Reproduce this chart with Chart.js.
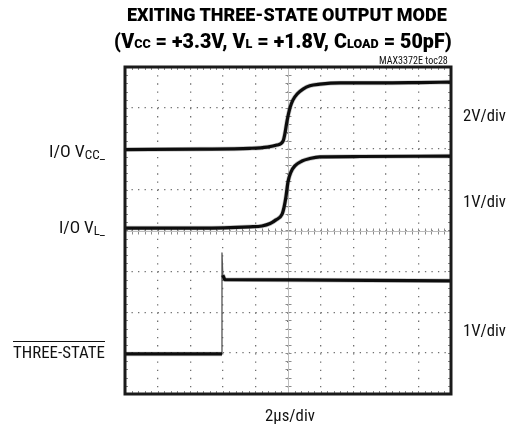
<!DOCTYPE html>
<html>
<head>
<meta charset="utf-8">
<script src="https://cdn.jsdelivr.net/npm/chart.js@4/dist/chart.umd.min.js"></script>
<style>
  html, body { margin: 0; padding: 0; background: #fff; }
  #wrap { position: relative; width: 508px; height: 428px; }
  #c { position: absolute; left: 0; top: 0; }
  #txt { position: absolute; left: 0; top: 0; pointer-events: none; }
  .b { font-family: Roboto, "Liberation Sans Narrow", "DejaVu Sans Condensed", "Liberation Sans", Arial, sans-serif; font-weight: 900; fill: #000; }
  .r { font-family: "Liberation Sans Narrow", "Roboto Condensed", "DejaVu Sans Condensed", "Liberation Sans", Arial, sans-serif; font-weight: normal; fill: #111; }
</style>
</head>
<body>
<div id="wrap">
<canvas id="c" width="508" height="428"></canvas>
<svg id="txt" width="508" height="428" xmlns="http://www.w3.org/2000/svg">
  <text class="b" x="127" y="21" font-size="17.5" data-w="320">EXITING THREE-STATE OUTPUT MODE</text>
  <text class="b" x="114" y="48" font-size="19.5" data-w="338">(V<tspan font-size="12.5">CC</tspan> = +3.3V, V<tspan font-size="12.5">L</tspan> = +1.8V, C<tspan font-size="12.5">LOAD</tspan> = 50pF)</text>
  <text class="r" x="379" y="64.5" font-size="10" data-w="69">MAX3372E toc28</text>
  <text class="r" x="49" y="157" font-size="17" data-w="56">I/O V<tspan font-size="12.5" dy="2.5">CC_</tspan></text>
  <text class="r" x="59" y="233" font-size="17" data-w="46">I/O V<tspan font-size="12.5" dy="2.5">L_</tspan></text>
  <text class="r" x="13" y="358" font-size="17" data-w="92">THREE-STATE</text>
  <line x1="13" y1="341.5" x2="105" y2="341.5" stroke="#111" stroke-width="1"/>
  <text class="r" x="463" y="121" font-size="17" data-w="43">2V/div</text>
  <text class="r" x="463" y="207" font-size="17" data-w="43">1V/div</text>
  <text class="r" x="463" y="336.5" font-size="17" data-w="43">1V/div</text>
  <text class="r" x="265" y="421" font-size="17" data-w="50">2µs/div</text>
</svg>
</div>
<script>
// Time axis in divisions (2 µs/div), 10 divisions; vertical axis in divisions, 8 divisions.
const xDivisions = [0, 10];
const yDivisions = [0, 8];

// I/O VCC_ trace (x in divisions, y in divisions)
const vccX = [0, 2.30, 3.83, 4.36, 4.66, 4.85, 4.91, 4.97, 5.06, 5.15, 5.28, 5.46, 5.67, 5.98, 6.60, 7.82, 9.05, 10];
const vccY = [5.98, 5.99, 6.01, 6.04, 6.09, 6.19, 6.39, 6.68, 7.00, 7.19, 7.34, 7.46, 7.54, 7.58, 7.61, 7.61, 7.62, 7.63];

// I/O VL_ trace
const vlX = [0, 2.30, 3.83, 4.20, 4.45, 4.63, 4.82, 4.88, 4.94, 5.00, 5.09, 5.21, 5.43, 5.67, 5.98, 7.21, 10];
const vlY = [4.06, 4.06, 4.09, 4.11, 4.17, 4.26, 4.40, 4.57, 4.84, 5.19, 5.43, 5.58, 5.70, 5.76, 5.80, 5.81, 5.82];

// THREE-STATE trace: low level, fast edge, high level
const tsLowX = [0, 2.975];
const tsLowY = [0.98, 0.98];
const tsEdgeX = [2.975, 2.975, 3.0];
const tsEdgeY = [0.98, 3.45, 2.91];
const tsHighX = [3.0, 3.06, 5.0, 7.5, 10];
const tsHighY = [2.91, 2.80, 2.79, 2.78, 2.77];

const pts = (xs, ys) => xs.map((x, i) => ({ x, y: ys[i] }));

const fuzz = 'rgba(0,0,0,0.22)';
const ink = '#111';
function trace(xs, ys, width, color, smooth) {
  return {
    data: pts(xs, ys), showLine: true, pointRadius: 0, borderColor: color,
    borderWidth: width, fill: false,
    cubicInterpolationMode: smooth ? 'monotone' : 'default', tension: 0,
    borderCapStyle: 'butt', borderJoinStyle: 'round'
  };
}

const datasets = [
  trace(vccX, vccY, 4.6, fuzz, true),
  trace(vlX, vlY, 4.6, fuzz, true),
  trace(tsLowX, tsLowY, 4.6, fuzz, false),
  trace(tsHighX, tsHighY, 4.6, fuzz, false),
  trace(vccX, vccY, 3.2, ink, true),
  trace(vlX, vlY, 3.2, ink, true),
  trace(tsLowX, tsLowY, 3.2, ink, false),
  trace(tsHighX, tsHighY, 3.2, ink, false),
  trace(tsEdgeX, tsEdgeY, 1.3, '#555', false)
];

const scopePlugin = {
  id: 'scope',
  beforeDatasetsDraw(chart) {
    const { ctx, chartArea: a, scales: { x, y } } = chart;
    ctx.save();
    ctx.strokeStyle = '#8a8a8a';
    ctx.lineWidth = 1;
    const cx = Math.round(x.getPixelForValue(5)) + 0.5;
    const cy = Math.round(y.getPixelForValue(4)) + 0.5;
    ctx.beginPath();
    for (let v = 0; v <= 10.001; v += 0.2) {
      const px = Math.round(x.getPixelForValue(v)) + 0.5;
      ctx.moveTo(px, cy - 3); ctx.lineTo(px, cy + 3);
      ctx.moveTo(px, a.top); ctx.lineTo(px, a.top + 3);
      ctx.moveTo(px, a.bottom); ctx.lineTo(px, a.bottom - 3);
    }
    for (let v = 0; v <= 8.001; v += 0.2) {
      const py = Math.round(y.getPixelForValue(v)) + 0.5;
      ctx.moveTo(cx - 3, py); ctx.lineTo(cx + 3, py);
      ctx.moveTo(a.left, py); ctx.lineTo(a.left + 3, py);
      ctx.moveTo(a.right, py); ctx.lineTo(a.right - 3, py);
    }
    ctx.stroke();
    ctx.strokeStyle = '#bdbdbd';
    ctx.beginPath();
    ctx.moveTo(a.left, cy); ctx.lineTo(a.right, cy);
    ctx.moveTo(cx, a.top); ctx.lineTo(cx, a.bottom);
    ctx.stroke();
    ctx.restore();
  },
  afterDatasetsDraw(chart) {
    const { ctx, chartArea: a } = chart;
    ctx.save();
    ctx.strokeStyle = '#1a1a1a';
    ctx.lineWidth = 3;
    ctx.strokeRect(a.left, a.top, a.right - a.left, a.bottom - a.top);
    ctx.restore();
  }
};

new Chart(document.getElementById('c'), {
  type: 'scatter',
  data: { datasets },
  options: {
    responsive: false,
    animation: false,
    devicePixelRatio: 1,
    layout: { padding: { left: 125, top: 67, right: 57, bottom: 34 } },
    plugins: { legend: { display: false }, tooltip: { enabled: false }, title: { display: false } },
    scales: {
      x: {
        type: 'linear', min: xDivisions[0], max: xDivisions[1],
        ticks: { display: false, stepSize: 1 },
        grid: { color: '#6f6f6f', lineWidth: 1.3, drawTicks: false },
        border: { display: false, dash: [1.3, 6.88] },
        afterFit: s => { s.height = 0; }
      },
      y: {
        type: 'linear', min: yDivisions[0], max: yDivisions[1],
        ticks: { display: false, stepSize: 1 },
        grid: { color: '#6f6f6f', lineWidth: 1.3, drawTicks: false },
        border: { display: false, dash: [1.3, 5.22] },
        afterFit: s => { s.width = 0; }
      }
    }
  },
  plugins: [scopePlugin]
});

// fit each text label to its measured width in the reference
document.querySelectorAll('#txt text[data-w]').forEach(el => {
  const w = parseFloat(el.getAttribute('data-w'));
  const x0 = parseFloat(el.getAttribute('x'));
  const bw = el.getBBox().width;
  if (bw > 0) {
    const s = w / bw;
    el.setAttribute('transform', `translate(${x0} 0) scale(${s} 1) translate(${-x0} 0)`);
  }
});
</script>
</body>
</html>
